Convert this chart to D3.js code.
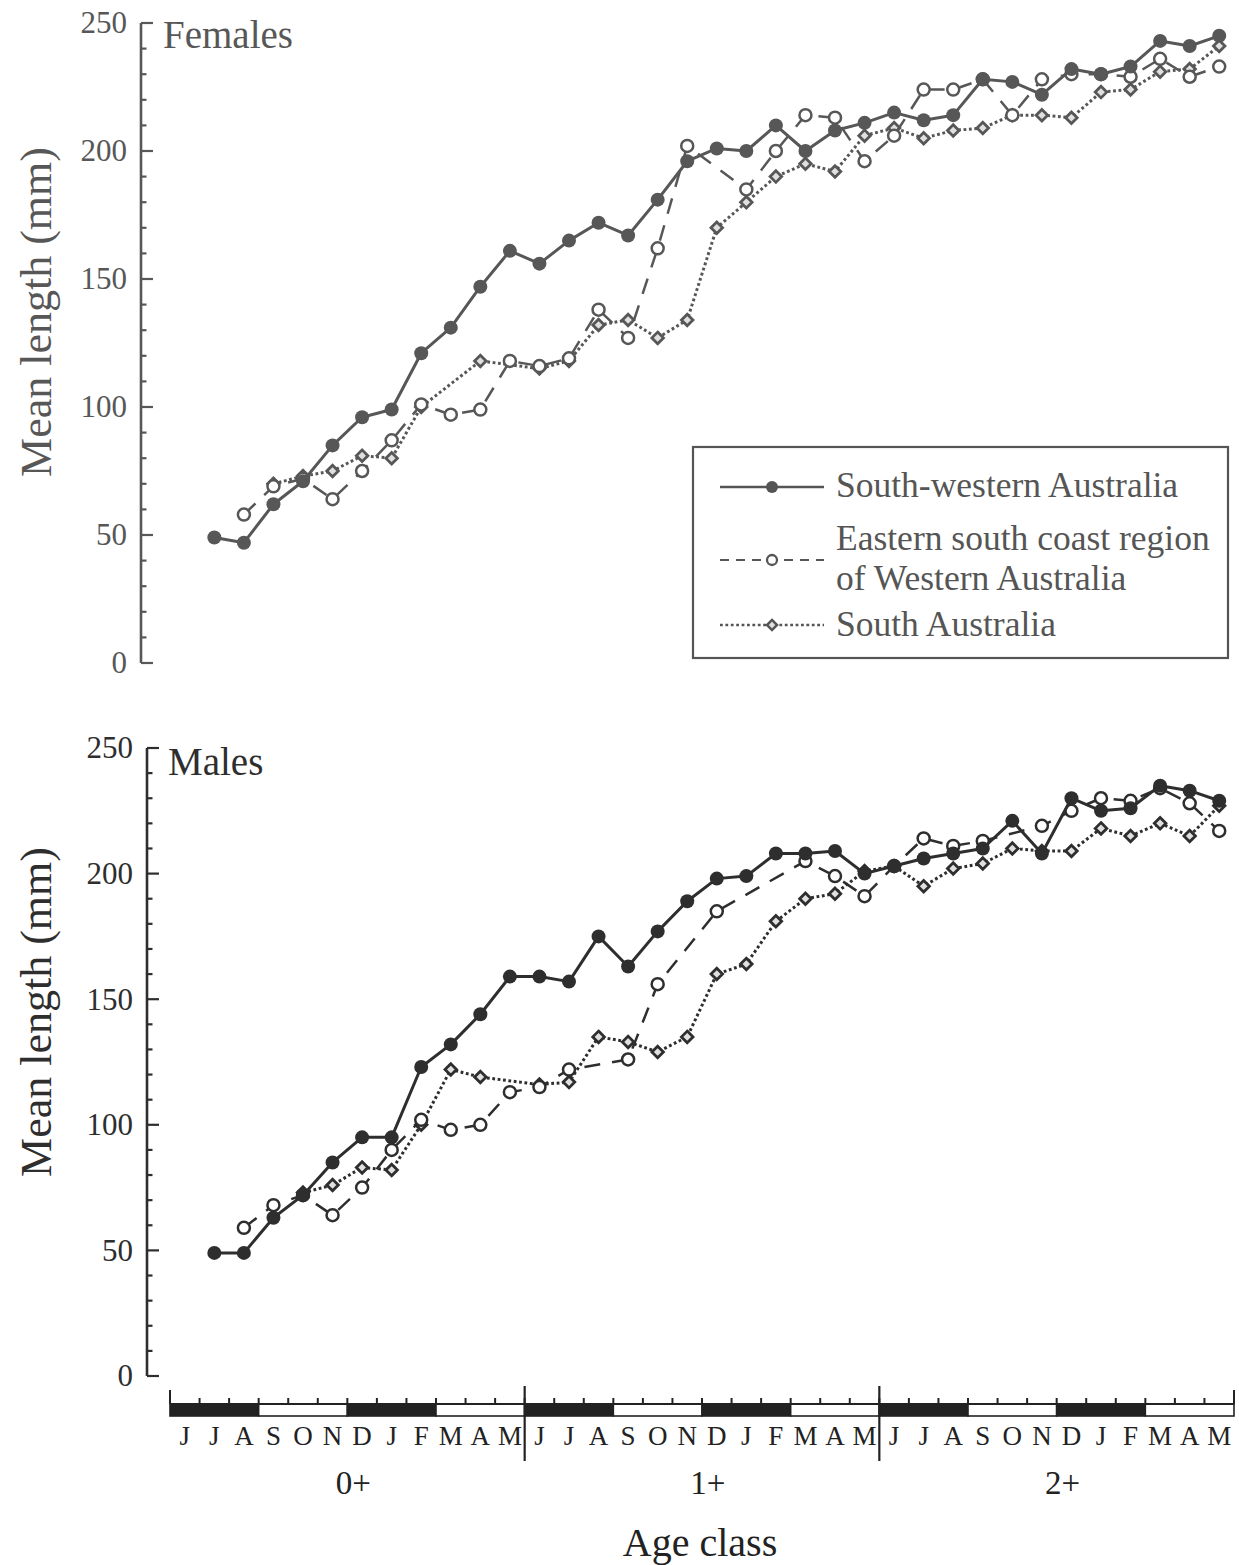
<!DOCTYPE html>
<html>
<head>
<meta charset="utf-8">
<script src="https://cdn.jsdelivr.net/npm/d3@7"></script>
<style>
  html, body { margin: 0; padding: 0; background: #fff; }
  svg { display: block; font-family: "Liberation Serif", "Times New Roman", serif; }
</style>
</head>
<body>
<svg id="chart" width="1239" height="1565"></svg>
<script>
// Month labels (June to May) for three consecutive years of age
const monthLabels = ["J","J","A","S","O","N","D","J","F","M","A","M"];
const ageClasses = ["0+","1+","2+"];
const yTicks = [0, 50, 100, 150, 200, 250];

const seriesNames = [
  "South-western Australia",
  ["Eastern south coast region", "of Western Australia"],
  "South Australia"
];

// Mean length (mm) by month index (0 = first June of the 0+ year); null = no sample
const femalesSW  = [null,49,47,62,71,85,96,99,121,131,147,161, 156,165,172,167,181,196,201,200,210,200,208,211, 215,212,214,228,227,222,232,230,233,243,241,245];
const femalesESC = [null,null,58,69,72,64,75,87,101,97,99,118, 116,119,138,127,162,202,null,185,200,214,213,196, 206,224,224,228,214,228,230,230,229,236,229,233];
const femalesSA  = [null,null,null,70,73,75,81,80,100,null,118,null, 115,118,132,134,127,134,170,180,190,195,192,206, 209,205,208,209,214,214,213,223,224,231,232,241];

const malesSW  = [null,49,49,63,72,85,95,95,123,132,144,159, 159,157,175,163,177,189,198,199,208,208,209,200, 203,206,208,210,221,208,230,225,226,235,233,229];
const malesESC = [null,null,59,68,72,64,75,90,102,98,100,113, 115,122,null,126,156,null,185,null,null,205,199,191, 203,214,211,213,null,219,225,230,229,234,228,217];
const malesSA  = [null,null,null,null,73,76,83,82,100,122,119,null, 116,117,135,133,129,135,160,164,181,190,192,201, 203,195,202,204,210,209,209,218,215,220,215,227];

const svg = d3.select("#chart");
const FONT = "'Liberation Serif', 'Times New Roman', serif";

// Shared month scale: 36 months, value i+0.5 is the middle of month i
const x = d3.scaleLinear().domain([0, 36]).range([170, 1234]);

const styles = [
  { dash: null,      width: 3.0, marker: "filled" },
  { dash: "16,12",   width: 2.5, marker: "open" },
  { dash: "2.8,2.6", width: 3.0, marker: "diamond" }
];

function drawMarker(sel, kind, color) {
  if (kind === "filled") {
    sel.append("circle").attr("r", 7).attr("fill", color);
  } else if (kind === "open") {
    sel.append("circle").attr("r", 6).attr("fill", "#fff")
      .attr("stroke", color).attr("stroke-width", 2.5);
  } else {
    sel.append("path").attr("d", d3.symbol(d3.symbolDiamond2, 85)())
      .attr("fill", "#e0e0e0").attr("stroke", color).attr("stroke-width", 2.8);
  }
}

function panel(opts) {
  const { title, data, y, axisX, color, titlePos, labelY } = opts;
  const g = svg.append("g");

  // y axis: line with inward ticks, cap at both ends
  const axisG = g.append("g").attr("transform", `translate(${axisX},0)`);
  axisG.append("line").attr("y1", y(0)).attr("y2", y(250))
    .attr("stroke", color).attr("stroke-width", 2.6);
  axisG.selectAll(".minor").data(d3.range(0, 251, 10)).join("line")
    .attr("class", "minor")
    .attr("x1", 0).attr("x2", d => d % 50 === 0 ? 12 : 5.5)
    .attr("y1", d => y(d)).attr("y2", d => y(d))
    .attr("stroke", color).attr("stroke-width", 2.2);

  const labels = d3.axisLeft(y).tickValues(yTicks).tickSize(0).tickPadding(14);
  const lab = g.append("g").attr("transform", `translate(${axisX},0)`).call(labels);
  lab.select(".domain").remove();
  lab.selectAll("text").attr("font-family", FONT).attr("font-size", 31)
    .attr("fill", color);

  // y axis title
  g.append("text")
    .attr("transform", `translate(51,${labelY}) rotate(-90)`)
    .attr("text-anchor", "middle")
    .attr("font-family", FONT).attr("font-size", 44).attr("fill", color)
    .text("Mean length (mm)");

  // panel title
  g.append("text").attr("x", titlePos[0]).attr("y", titlePos[1])
    .attr("font-family", FONT).attr("font-size", 39).attr("fill", color)
    .text(title);

  // series: drawn from South Australia up to South-western Australia
  [2, 1, 0].forEach(s => {
    const pts = data[s].map((v, i) => ({ i, v })).filter(d => d.v !== null);
    const line = d3.line().x(d => x(d.i + 0.5)).y(d => y(d.v));
    const st = styles[s];
    g.append("path").datum(pts).attr("d", line)
      .attr("fill", "none").attr("stroke", color)
      .attr("stroke-width", st.width)
      .attr("stroke-dasharray", st.dash)
      .attr("stroke-linejoin", "round");
    g.append("g").selectAll("g").data(pts).join("g")
      .attr("transform", d => `translate(${x(d.i + 0.5)},${y(d.v)})`)
      .each(function() { drawMarker(d3.select(this), st.marker, color); });
  });
  return g;
}

// Females
const yF = d3.scaleLinear().domain([0, 250]).range([663, 23]);
panel({
  title: "Females", data: [femalesSW, femalesESC, femalesSA], y: yF,
  axisX: 141, color: "#575757", titlePos: [163, 48], labelY: 312
});

// Males
const yM = d3.scaleLinear().domain([0, 250]).range([1376, 748]);
panel({
  title: "Males", data: [malesSW, malesESC, malesSA], y: yM,
  axisX: 147, color: "#2e2e2e", titlePos: [168, 775], labelY: 1012
});

// Legend
const leg = svg.append("g");
const legCol = "#555";
leg.append("rect").attr("x", 693).attr("y", 447).attr("width", 535).attr("height", 211)
  .attr("fill", "#fff").attr("stroke", legCol).attr("stroke-width", 2.2);
const legRows = [
  { y: 487, lines: [seriesNames[0]], base: [497] },
  { y: 560, lines: seriesNames[1], base: [550, 590] },
  { y: 625, lines: [seriesNames[2]], base: [636] }
];
legRows.forEach((r, s) => {
  const st = styles[s];
  leg.append("line").attr("x1", 720).attr("x2", 824).attr("y1", r.y).attr("y2", r.y)
    .attr("stroke", legCol).attr("stroke-width", st.width - 0.3)
    .attr("stroke-dasharray", s === 1 ? "9,7" : st.dash);
  const m = leg.append("g").attr("transform", `translate(772,${r.y})`);
  if (st.marker === "filled") m.append("circle").attr("r", 6).attr("fill", legCol);
  else if (st.marker === "open") m.append("circle").attr("r", 5).attr("fill", "#fff").attr("stroke", legCol).attr("stroke-width", 2.3);
  else m.append("path").attr("d", d3.symbol(d3.symbolDiamond2, 65)()).attr("fill", "#e0e0e0").attr("stroke", legCol).attr("stroke-width", 2.5);
  r.lines.forEach((t, k) => {
    leg.append("text").attr("x", 836).attr("y", r.base[k])
      .attr("font-family", FONT).attr("font-size", 35.5).attr("fill", legCol).text(t);
  });
});

// Bottom month axis with season bar
const ax = svg.append("g");
const barTop = 1404, barH = 12, axCol = "#222";
d3.range(12).forEach(k => {
  ax.append("rect").attr("x", x(3 * k)).attr("y", barTop)
    .attr("width", x(3 * k + 3) - x(3 * k)).attr("height", barH)
    .attr("fill", k % 2 === 0 ? axCol : "#fff")
    .attr("stroke", axCol).attr("stroke-width", 1.6);
});
ax.append("line").attr("x1", x(0)).attr("x2", x(36)).attr("y1", barTop).attr("y2", barTop)
  .attr("stroke", axCol).attr("stroke-width", 2);
ax.selectAll(".mt").data(d3.range(0, 37)).join("line").attr("class", "mt")
  .attr("x1", d => x(d)).attr("x2", d => x(d))
  .attr("y1", d => (d === 0 || d === 36) ? barTop - 14 : barTop - 6)
  .attr("y2", barTop)
  .attr("stroke", axCol).attr("stroke-width", 2);
[12, 24].forEach(d => {
  ax.append("line").attr("x1", x(d)).attr("x2", x(d)).attr("y1", 1386).attr("y2", 1461)
    .attr("stroke", axCol).attr("stroke-width", 2.2);
});
ax.selectAll(".ml").data(d3.range(36)).join("text").attr("class", "ml")
  .attr("x", d => x(d + 0.5)).attr("y", 1445)
  .attr("text-anchor", "middle").attr("font-family", FONT).attr("font-size", 27)
  .attr("fill", axCol).text(d => monthLabels[d % 12]);
ax.selectAll(".ac").data(ageClasses).join("text").attr("class", "ac")
  .attr("x", (d, i) => x(12 * i + 6.2)).attr("y", 1494)
  .attr("text-anchor", "middle").attr("font-family", FONT).attr("font-size", 33)
  .attr("fill", axCol).text(d => d);
ax.append("text").attr("x", 700).attr("y", 1556).attr("text-anchor", "middle")
  .attr("font-family", FONT).attr("font-size", 40).attr("fill", axCol).text("Age class");
</script>
</body>
</html>
